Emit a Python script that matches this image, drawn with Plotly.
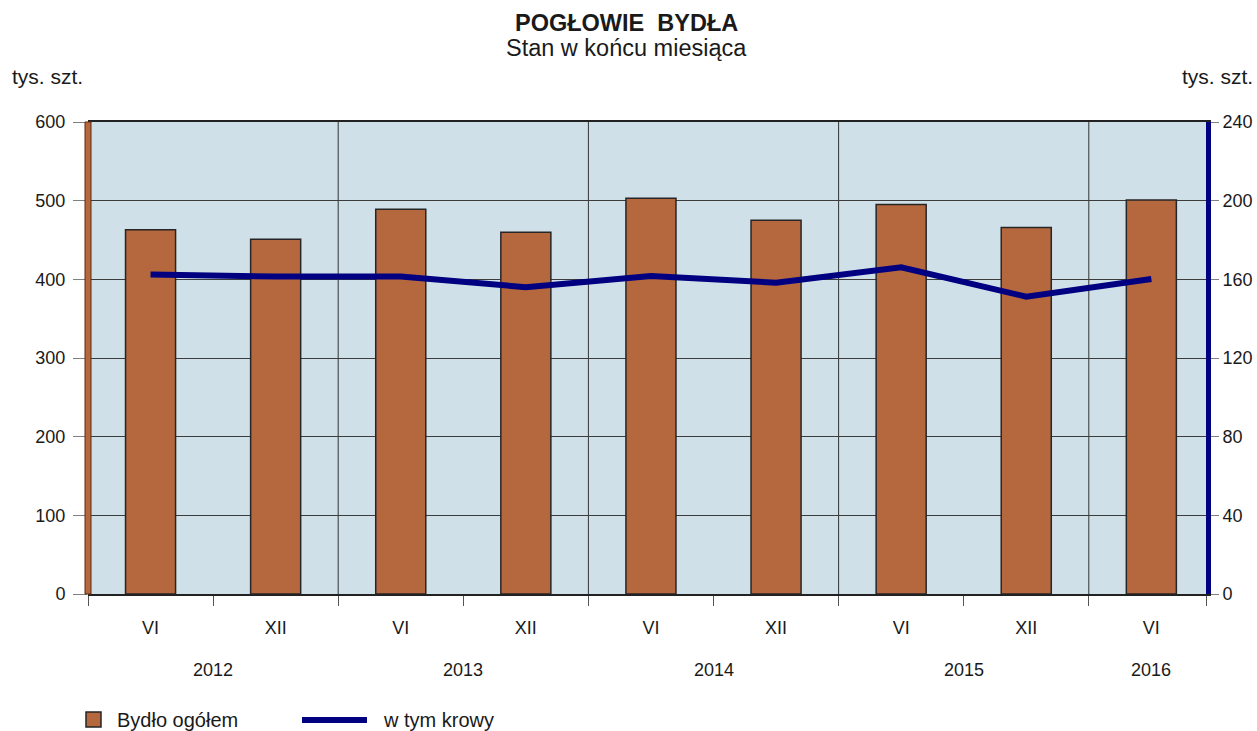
import plotly.graph_objects as go

# ---- data ----
months = ["VI", "XII", "VI", "XII", "VI", "XII", "VI", "XII", "VI"]
years = ["2012", "2013", "2014", "2015", "2016"]
year_pos = [0.5, 2.5, 4.5, 6.5, 8.0]
bydlo = [463, 451, 489, 460, 503, 475, 495, 466, 501]
krowy = [162.4, 161.4, 161.4, 156.0, 161.7, 158.3, 166.1, 151.2, 160.2]

# ---- geometry helpers (pixel -> paper) ----
W, H = 1257, 731
L, R, T, B = 88, 1206, 122, 594
def px(x):
    return (x - L) / (R - L)
def py(y):
    return (B - y) / (B - T)

FONT = "Liberation Sans, Arial, sans-serif"
BAR_C = "#B5673D"
LINE_C = "#000080"
TXT = "#1a1a1a"

xs = list(range(len(months)))
xmax = -0.5 + (R - L) / 125.1

fig = go.Figure()
fig.add_trace(go.Bar(
    x=xs, y=bydlo, name="Bydło ogółem", width=0.4,
    marker=dict(color=BAR_C, line=dict(color="#262626", width=1.5)),
    yaxis="y", showlegend=False,
))
fig.add_trace(go.Scatter(
    x=xs, y=krowy, name="w tym krowy", mode="lines",
    line=dict(color=LINE_C, width=6), yaxis="y2", showlegend=False,
))

shapes = []
# year boundary lines
for xb in [1.5, 3.5, 5.5, 7.5]:
    shapes.append(dict(type="line", xref="x", yref="paper", x0=xb, x1=xb, y0=0, y1=1,
                       line=dict(color="#333333", width=1), layer="between"))
# left brown axis bar
shapes.append(dict(type="rect", xref="paper", yref="paper", x0=px(85), x1=px(91), y0=0, y1=1,
                   fillcolor=BAR_C, line=dict(color="#5a2d10", width=1), layer="above"))
# legend symbols
shapes.append(dict(type="rect", xref="paper", yref="paper", x0=px(86), x1=px(101), y0=py(727), y1=py(712),
                   fillcolor=BAR_C, line=dict(color="#262626", width=1.5)))
shapes.append(dict(type="line", xref="paper", yref="paper", x0=px(302), x1=px(367), y0=py(720), y1=py(720),
                   line=dict(color=LINE_C, width=6)))

ann = []
def text(x, y, s, size, bold=False, xanchor="center", yanchor="middle"):
    ann.append(dict(xref="paper", yref="paper", x=px(x), y=py(y), text=("<b>%s</b>" % s) if bold else s,
                    showarrow=False, xanchor=xanchor, yanchor=yanchor,
                    font=dict(family=FONT, size=size, color=TXT)))

text(626, 23, "POGŁOWIE  BYDŁA", 23.5, bold=True)
text(626, 48, "Stan w końcu miesiąca", 23.5)
text(10, 76, "tys. szt.", 21, xanchor="left")
text(1255, 76, "tys. szt.", 21, xanchor="right")
for yv, lab in zip(year_pos, years):
    ann.append(dict(xref="x", yref="paper", x=yv, y=py(670), text=lab, showarrow=False,
                    xanchor="center", yanchor="middle", font=dict(family=FONT, size=18, color=TXT)))
text(115, 720, "Bydło ogółem", 20, xanchor="left")
text(381, 720, "w tym krowy", 20, xanchor="left")

fig.update_layout(
    width=W, height=H,
    margin=dict(l=L, r=W - R, t=T, b=H - B, pad=0, autoexpand=False),
    paper_bgcolor="white", plot_bgcolor="#D0E0E8",
    font=dict(family=FONT, size=18, color=TXT),
    showlegend=False,
    bargap=0.6,
    xaxis=dict(
        range=[-0.5, xmax], tickmode="array", tickvals=xs, ticktext=months,
        ticks="", ticklen=0, ticklabelstandoff=17, automargin=False,
        showgrid=False, zeroline=False,
        showline=True, linecolor="#222222", linewidth=1.5, mirror=True,
        tickfont=dict(family=FONT, size=18, color=TXT),
        minor=dict(tickmode="array", tickvals=[-0.5, 0.5, 1.5, 2.5, 3.5, 4.5, 5.5, 6.5, 7.5, xmax],
                   ticks="outside", ticklen=10, tickcolor="#555555", tickwidth=1, showgrid=False),
    ),
    yaxis=dict(
        range=[0, 600], tickmode="linear", tick0=0, dtick=100, automargin=False,
        ticks="outside", ticklen=14, tickcolor="#808080", tickwidth=1,
        showgrid=True, gridcolor="#3c3c3c", gridwidth=1,
        zeroline=False, showline=False, ticklabelstandoff=4,
        tickfont=dict(family=FONT, size=18, color=TXT),
    ),
    yaxis2=dict(
        range=[0, 240], tickmode="linear", tick0=0, dtick=40, overlaying="y", side="right",
        automargin=False,
        ticks="outside", ticklen=8, tickcolor="#808080", tickwidth=1,
        showgrid=False, zeroline=False,
        showline=True, linecolor=LINE_C, linewidth=5, ticklabelstandoff=0,
        tickfont=dict(family=FONT, size=18, color=TXT),
    ),
    shapes=shapes, annotations=ann,
)

fig.write_html("out.html", config={"displayModeBar": False},
               post_script="document.body.style.margin='0';document.body.style.overflow='hidden';")
